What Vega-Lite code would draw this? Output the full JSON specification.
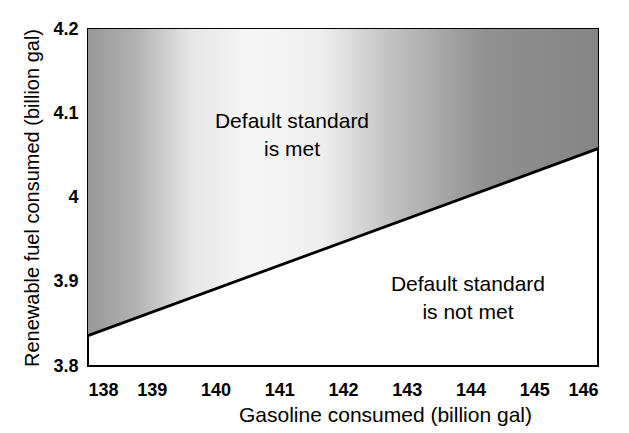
{
  "$schema": "https://vega.github.io/schema/vega-lite/v6.json",
  "width": 510,
  "height": 337,
  "autosize": {"type": "none"},
  "padding": {"left": 88, "top": 29, "right": 31, "bottom": 67},
  "background": "white",
  "config": {
    "font": "Liberation Sans",
    "view": {"stroke": "black", "strokeWidth": 2},
    "axis": {
      "grid": false,
      "ticks": false,
      "domain": false,
      "labelFont": "Liberation Sans",
      "labelFontWeight": "bold",
      "labelFontSize": 18,
      "labelColor": "black",
      "titleFont": "Liberation Sans",
      "titleFontWeight": "normal",
      "titleFontSize": 20,
      "titleColor": "black"
    }
  },
  "layer": [
    {
      "data": {"values": [
        {"gasoline": 138, "renewable": 3.836, "top": 4.2},
        {"gasoline": 146, "renewable": 4.058, "top": 4.2}
      ]},
      "mark": {
        "type": "area",
        "color": {
          "gradient": "linear",
          "x1": 0, "x2": 1, "y1": 0, "y2": 0,
          "stops": [
            {"offset": 0, "color": "#989898"},
            {"offset": 0.1, "color": "#b4b4b4"},
            {"offset": 0.2, "color": "#e6e6e6"},
            {"offset": 0.32, "color": "#f6f6f6"},
            {"offset": 0.46, "color": "#eeeeee"},
            {"offset": 0.6, "color": "#c0c0c0"},
            {"offset": 0.78, "color": "#909090"},
            {"offset": 1, "color": "#858585"}
          ]
        }
      },
      "encoding": {
        "x": {"field": "gasoline", "type": "quantitative",
              "scale": {"domain": [138, 146], "nice": false, "zero": false},
              "axis": {"values": [138,139,140,141,142,143,144,145,146], "format": "d", "labelPadding": 15, "titlePadding": 5, "titleX": 297, "titleAlign": "center", "titleFontSize": 21, "title": "Gasoline consumed (billion gal)"}},
        "y": {"field": "renewable", "type": "quantitative",
              "scale": {"domain": [3.8, 4.2], "nice": false, "zero": false},
              "axis": {"values": [3.8, 3.9, 4.0, 4.1, 4.2], "format": "~g", "labelPadding": 10, "titlePadding": 10, "title": "Renewable fuel consumed (billion gal)"}},
        "y2": {"field": "top"}
      }
    },
    {
      "data": {"values": [
        {"gasoline": 138, "renewable": 3.836},
        {"gasoline": 146, "renewable": 4.058}
      ]},
      "mark": {"type": "line", "color": "black", "strokeWidth": 2.8},
      "encoding": {
        "x": {"field": "gasoline", "type": "quantitative"},
        "y": {"field": "renewable", "type": "quantitative"}
      }
    },
    {
      "data": {"values": [
        {"gasoline": 141.2, "renewable": 4.0896, "label": "Default standard"},
        {"gasoline": 141.2, "renewable": 4.0564, "label": "is met"},
        {"gasoline": 143.96, "renewable": 3.8961, "label": "Default standard"},
        {"gasoline": 143.96, "renewable": 3.8629, "label": "is not met"}
      ]},
      "mark": {"type": "text", "font": "Liberation Sans", "fontSize": 21, "color": "black", "align": "center", "baseline": "middle"},
      "encoding": {
        "x": {"field": "gasoline", "type": "quantitative"},
        "y": {"field": "renewable", "type": "quantitative"},
        "text": {"field": "label"}
      }
    }
  ]
}
